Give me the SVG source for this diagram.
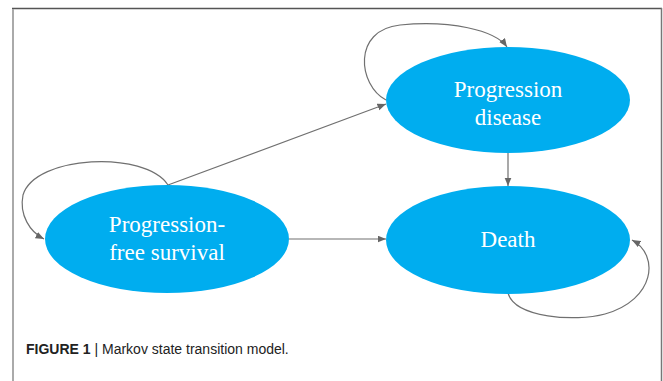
<svg xmlns="http://www.w3.org/2000/svg" width="663" height="381" viewBox="0 0 663 381">
  <style>
    .node { fill: #00ADEF; }
    .label { font-family: "Liberation Serif", "Times New Roman", serif; font-size: 23px; fill: #ffffff; text-anchor: middle; }
    .edge { fill: none; stroke: #707070; stroke-width: 1.2; marker-end: url(#arrow); }
    .caption { font-family: "Liberation Sans", Arial, sans-serif; font-size: 14px; fill: #222222; }
  </style>
  <defs>
    <marker id="arrow" markerUnits="userSpaceOnUse" markerWidth="9" markerHeight="8" refX="8.5" refY="3.5" orient="auto">
      <path d="M0,0 L8.5,3.5 L0,7 z" fill="#666666"/>
    </marker>
  </defs>
  <rect width="663" height="381" fill="#ffffff"/>
  <g id="frame">
    <line x1="12" y1="8.5" x2="662" y2="8.5" stroke="#555555" stroke-width="1.5"/>
    <line x1="13" y1="9" x2="13" y2="381" stroke="#aaaaaa" stroke-width="2"/>
    <line x1="661.5" y1="8" x2="661.5" y2="381" stroke="#777777" stroke-width="1.5"/>
  </g>
  <g id="connectors">
    <path class="edge" d="M168,185 L386,104"/>
    <path class="edge" d="M289,239 L386,239"/>
    <path class="edge" d="M508,153 L508,186"/>
    <path class="edge" d="M168,185 C145,150 35,155 23,195 C19,215 30,232 44,239"/>
    <path class="edge" d="M386,100 C358,85 352,30 400,25 C450,20 495,30 507,47"/>
    <path class="edge" d="M508,293 C515,318 575,322 605,314 C655,300 660,255 632,240"/>
  </g>
  <g id="node-pfs">
    <ellipse class="node" cx="167" cy="239" rx="122" ry="54"/>
    <text class="label" x="167" y="232">Progression-</text>
    <text class="label" x="167" y="260">free survival</text>
  </g>
  <g id="node-pd">
    <ellipse class="node" cx="508" cy="100" rx="122" ry="53"/>
    <text class="label" x="508" y="97">Progression</text>
    <text class="label" x="508" y="125">disease</text>
  </g>
  <g id="node-death">
    <ellipse class="node" cx="508" cy="240" rx="122" ry="54"/>
    <text class="label" x="508" y="247">Death</text>
  </g>
  <g id="caption">
    <text class="caption" x="26" y="354"><tspan font-weight="bold">FIGURE 1</tspan> | Markov state transition model.</text>
  </g>
</svg>
